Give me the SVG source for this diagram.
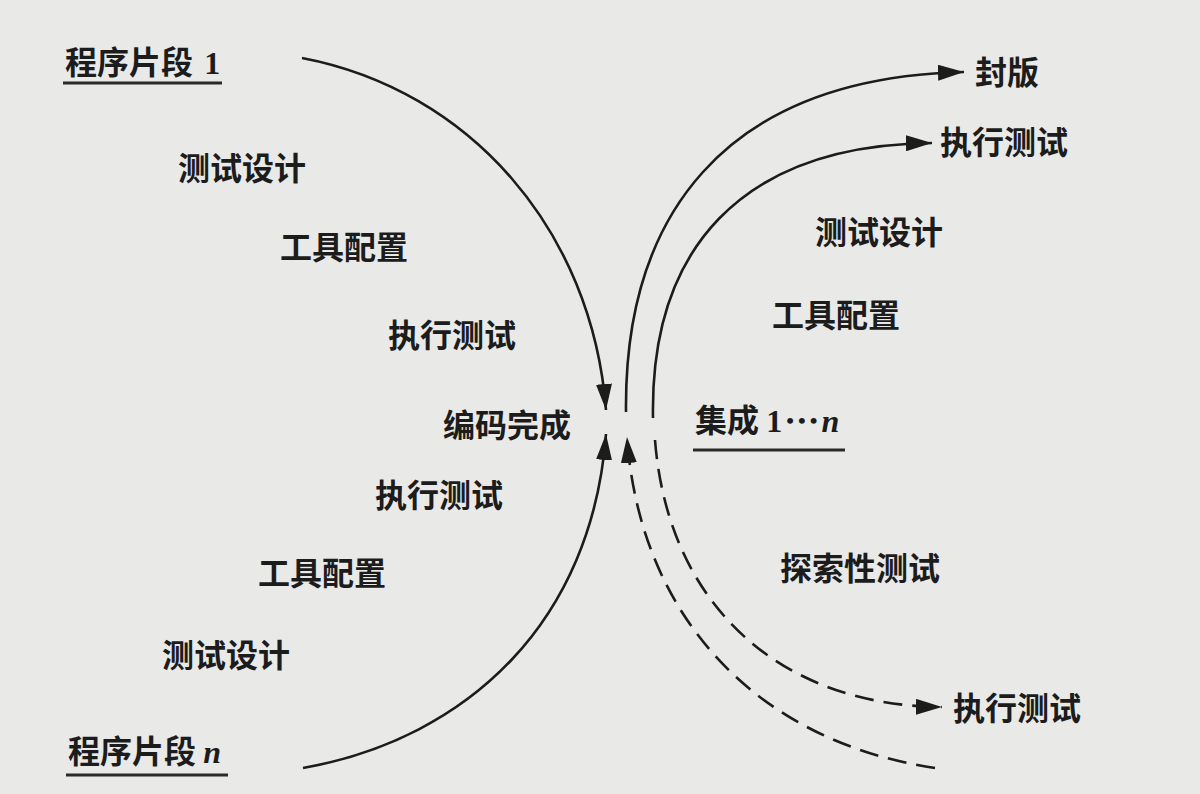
<svg xmlns="http://www.w3.org/2000/svg" width="1200" height="794" viewBox="0 0 1200 794">
<defs>
<style>
.t{font-family:"Noto Sans CJK SC","Noto Sans",sans-serif;font-size:32px;fill:#1c1c1c;font-weight:600}
.s{font-family:"Liberation Serif",serif}
.ln{fill:none;stroke:#1c1c1c;stroke-width:2.6}
.d{stroke-dasharray:19 10}
.ul{stroke:#2a2a2a;stroke-width:3}
</style>
<marker id="ah" markerUnits="userSpaceOnUse" markerWidth="28" markerHeight="16" refX="26" refY="8" orient="auto">
<path d="M0,0 L26,8 L0,16 Z" fill="#1c1c1c"/>
</marker>
</defs>
<rect width="1200" height="794" fill="#e9e9e7"/>
<g id="connectors">
<path class="ln" d="M302,58 C470,90 592,230 606,410" marker-end="url(#ah)"/>
<path class="ln" d="M303,768 C470,738 592,620 606,434" marker-end="url(#ah)"/>
<path class="ln" d="M626,412 C624,220 720,78 964,72" marker-end="url(#ah)"/>
<path class="ln" d="M653,418 C650,250 740,145 932,143" marker-end="url(#ah)"/>
<path class="ln d" d="M935,768 C760,742 640,620 627,437" marker-end="url(#ah)"/>
<path class="ln d" d="M655,440 C668,605 780,706 942,707" marker-end="url(#ah)"/>
</g>
<g id="seg1"><text class="t" x="65" y="74">程序片段 <tspan class="s" dx="4">1</tspan></text><line class="ul" x1="63" y1="83" x2="222" y2="83"/></g>
<g id="segn"><text class="t" x="68" y="763">程序片段 <tspan class="s" font-style="italic">n</tspan></text><line class="ul" x1="66" y1="775" x2="228" y2="775"/></g>
<g id="l1"><text class="t" x="178" y="180">测试设计</text></g>
<g id="l2"><text class="t" x="280" y="259">工具配置</text></g>
<g id="l3"><text class="t" x="388" y="347">执行测试</text></g>
<g id="center"><text class="t" x="443" y="437">编码完成</text></g>
<g id="l4"><text class="t" x="375" y="507">执行测试</text></g>
<g id="l5"><text class="t" x="258" y="585">工具配置</text></g>
<g id="l6"><text class="t" x="162" y="667">测试设计</text></g>
<g id="release"><text class="t" x="975" y="84">封版</text></g>
<g id="r1"><text class="t" x="940" y="154">执行测试</text></g>
<g id="r2"><text class="t" x="815" y="244">测试设计</text></g>
<g id="r3"><text class="t" x="772" y="327">工具配置</text></g>
<g id="integ"><text class="t" x="695" y="432">集成 <tspan class="s">1</tspan><tspan class="s" font-size="22" letter-spacing="4" dx="4" dy="-4">•••</tspan><tspan class="s" font-style="italic" dy="4">n</tspan></text><line class="ul" x1="693" y1="450" x2="845" y2="450"/></g>
<g id="explore"><text class="t" x="780" y="580">探索性测试</text></g>
<g id="r4"><text class="t" x="953" y="720">执行测试</text></g>
</svg>
